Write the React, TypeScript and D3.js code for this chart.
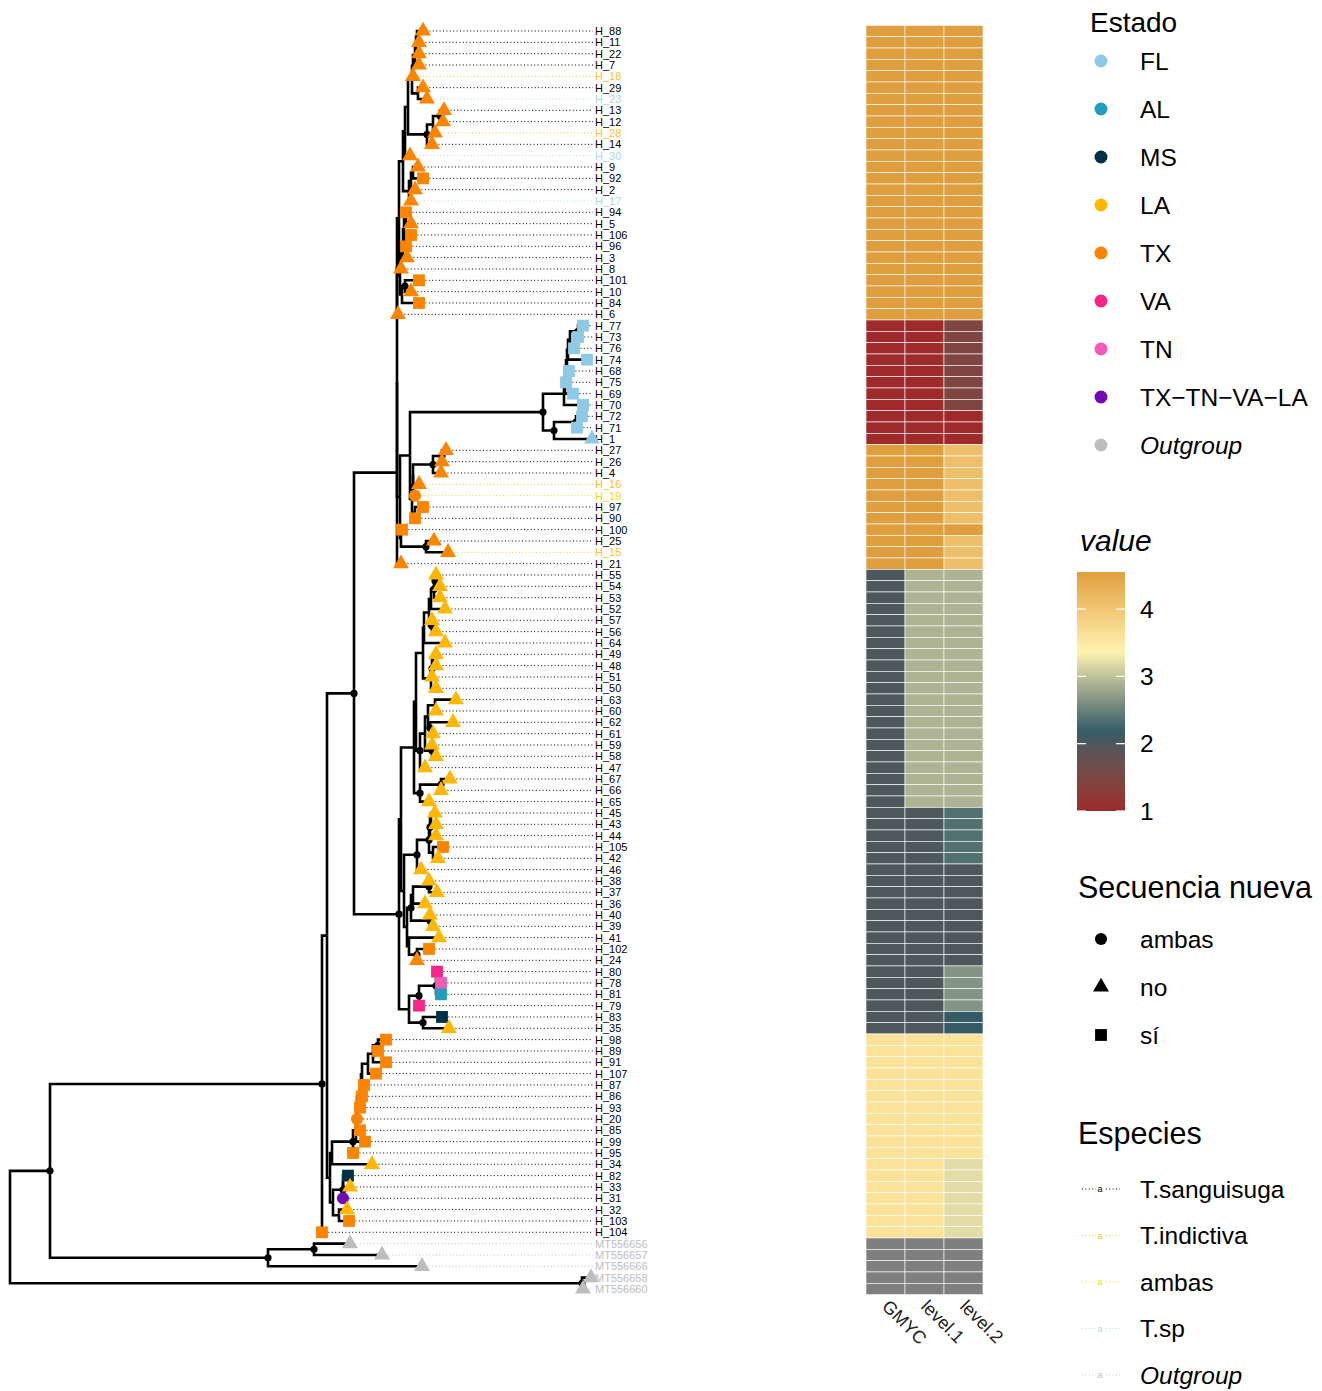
import { useEffect, useRef } from "react";
import * as d3 from "d3";

// ---- tip data (row order, top to bottom) ----
const tipLabels = [
  "H_88", "H_11", "H_22", "H_7", "H_18", "H_29", "H_23", "H_13", "H_12", "H_28", "H_14", "H_30", "H_9",
  "H_92", "H_2", "H_17", "H_94", "H_5", "H_106", "H_96", "H_3", "H_8", "H_101", "H_10", "H_84", "H_6",
  "H_77", "H_73", "H_76", "H_74", "H_68", "H_75", "H_69", "H_70", "H_72", "H_71", "H_1",
  "H_27", "H_26", "H_4", "H_16", "H_19", "H_97", "H_90", "H_100", "H_25", "H_15", "H_21",
  "H_55", "H_54", "H_53", "H_52", "H_57", "H_56", "H_64", "H_49", "H_48", "H_51", "H_50",
  "H_63", "H_60", "H_62", "H_61", "H_59", "H_58", "H_47", "H_67", "H_66", "H_65",
  "H_45", "H_43", "H_44", "H_105", "H_42", "H_46", "H_38", "H_37", "H_36", "H_40", "H_39", "H_41", "H_102", "H_24",
  "H_80", "H_78", "H_81", "H_79", "H_83", "H_35",
  "H_98", "H_89", "H_91", "H_107", "H_87", "H_86", "H_93", "H_20", "H_85", "H_99", "H_95",
  "H_34", "H_82", "H_33", "H_31", "H_32", "H_103", "H_104",
  "MT556656", "MT556657", "MT556666", "MT556658", "MT556660"
];

const estado = [
  "TX", "TX", "TX", "TX", "TX", "TX", "TX", "TX", "TX", "TX", "TX", "TX", "TX",
  "TX", "TX", "TX", "TX", "TX", "TX", "TX", "TX", "TX", "TX", "TX", "TX", "TX",
  "FL", "FL", "FL", "FL", "FL", "FL", "FL", "FL", "FL", "FL", "FL",
  "TX", "TX", "TX", "TX", "TX", "TX", "TX", "TX", "TX", "TX", "TX",
  "LA", "LA", "LA", "LA", "LA", "LA", "LA", "LA", "LA", "LA", "LA",
  "LA", "LA", "LA", "LA", "LA", "LA", "LA", "LA", "LA", "LA",
  "LA", "LA", "LA", "TX", "LA", "LA", "LA", "LA", "LA", "LA", "LA", "LA", "TX", "TX",
  "VA", "TN", "AL", "VA", "MS", "LA",
  "TX", "TX", "TX", "TX", "TX", "TX", "TX", "TX", "TX", "TX", "TX",
  "LA", "MS", "LA", "TX-TN-VA-LA", "LA", "TX", "TX",
  "Outgroup", "Outgroup", "Outgroup", "Outgroup", "Outgroup"
];

const secuencia = [
  "no", "no", "no", "no", "no", "no", "no", "no", "no", "no", "no", "no", "no",
  "sí", "no", "no", "sí", "no", "sí", "sí", "no", "no", "sí", "no", "sí", "no",
  "sí", "sí", "sí", "sí", "sí", "sí", "sí", "sí", "sí", "sí", "no",
  "no", "no", "no", "no", "ambas", "sí", "sí", "sí", "no", "no", "no",
  "no", "no", "no", "no", "no", "no", "no", "no", "no", "no", "no",
  "no", "no", "no", "no", "no", "no", "no", "no", "no", "no",
  "no", "no", "no", "sí", "no", "no", "no", "no", "no", "no", "no", "no", "sí", "no",
  "sí", "sí", "sí", "sí", "sí", "no",
  "sí", "sí", "sí", "sí", "sí", "sí", "sí", "ambas", "sí", "sí", "sí",
  "no", "sí", "no", "ambas", "no", "sí", "sí",
  "no", "no", "no", "no", "no"
];

const especie = [
  "T.sanguisuga", "T.sanguisuga", "T.sanguisuga", "T.sanguisuga", "T.indictiva", "T.sanguisuga", "T.sp",
  "T.sanguisuga", "T.sanguisuga", "T.indictiva", "T.sanguisuga", "T.sp", "T.sanguisuga",
  "T.sanguisuga", "T.sanguisuga", "T.sp", "T.sanguisuga", "T.sanguisuga", "T.sanguisuga", "T.sanguisuga",
  "T.sanguisuga", "T.sanguisuga", "T.sanguisuga", "T.sanguisuga", "T.sanguisuga", "T.sanguisuga",
  "T.sanguisuga", "T.sanguisuga", "T.sanguisuga", "T.sanguisuga", "T.sanguisuga", "T.sanguisuga",
  "T.sanguisuga", "T.sanguisuga", "T.sanguisuga", "T.sanguisuga", "T.sanguisuga",
  "T.sanguisuga", "T.sanguisuga", "T.sanguisuga", "T.indictiva", "ambas", "T.sanguisuga", "T.sanguisuga",
  "T.sanguisuga", "T.sanguisuga", "T.indictiva", "T.sanguisuga",
  "T.sanguisuga", "T.sanguisuga", "T.sanguisuga", "T.sanguisuga", "T.sanguisuga", "T.sanguisuga", "T.sanguisuga",
  "T.sanguisuga", "T.sanguisuga", "T.sanguisuga", "T.sanguisuga", "T.sanguisuga", "T.sanguisuga", "T.sanguisuga",
  "T.sanguisuga", "T.sanguisuga", "T.sanguisuga", "T.sanguisuga", "T.sanguisuga", "T.sanguisuga", "T.sanguisuga",
  "T.sanguisuga", "T.sanguisuga", "T.sanguisuga", "T.sanguisuga", "T.sanguisuga", "T.sanguisuga", "T.sanguisuga",
  "T.sanguisuga", "T.sanguisuga", "T.sanguisuga", "T.sanguisuga", "T.sanguisuga", "T.sanguisuga", "T.sanguisuga",
  "T.sanguisuga", "T.sanguisuga", "T.sanguisuga", "T.sanguisuga", "T.sanguisuga", "T.sanguisuga",
  "T.sanguisuga", "T.sanguisuga", "T.sanguisuga", "T.sanguisuga", "T.sanguisuga", "T.sanguisuga", "T.sanguisuga",
  "T.sanguisuga", "T.sanguisuga", "T.sanguisuga", "T.sanguisuga", "T.sanguisuga", "T.sanguisuga", "T.sanguisuga",
  "T.sanguisuga", "T.sanguisuga", "T.sanguisuga", "T.sanguisuga",
  "Outgroup", "Outgroup", "Outgroup", "Outgroup", "Outgroup"
];

// ---- heatmap values (same row order) ----
const gmyc = [
  4.55, 4.55, 4.55, 4.55, 4.55, 4.55, 4.55, 4.55, 4.55, 4.55, 4.55, 4.55, 4.55,
  4.55, 4.55, 4.55, 4.55, 4.55, 4.55, 4.55, 4.55, 4.55, 4.55, 4.55, 4.55, 4.55,
  1, 1, 1, 1, 1, 1, 1, 1, 1, 1, 1,
  4.55, 4.55, 4.55, 4.55, 4.55, 4.55, 4.55, 4.55, 4.55, 4.55, 4.55,
  2, 2, 2, 2, 2, 2, 2, 2, 2, 2, 2, 2, 2, 2, 2, 2, 2, 2, 2, 2, 2,
  2, 2, 2, 2, 2, 2, 2, 2, 2, 2, 2, 2, 2, 2,
  2, 2, 2, 2, 2, 2,
  3.6, 3.6, 3.6, 3.6, 3.6, 3.6, 3.6, 3.6, 3.6, 3.6, 3.6,
  3.6, 3.6, 3.6, 3.6, 3.6, 3.6, 3.6,
  null, null, null, null, null
];
const level1 = [
  4.55, 4.55, 4.55, 4.55, 4.55, 4.55, 4.55, 4.55, 4.55, 4.55, 4.55, 4.55, 4.55,
  4.55, 4.55, 4.55, 4.55, 4.55, 4.55, 4.55, 4.55, 4.55, 4.55, 4.55, 4.55, 4.55,
  1, 1, 1, 1, 1, 1, 1, 1, 1, 1, 1,
  4.55, 4.55, 4.55, 4.55, 4.55, 4.55, 4.55, 4.55, 4.55, 4.55, 4.55,
  2.9, 2.9, 2.9, 2.9, 2.9, 2.9, 2.9, 2.9, 2.9, 2.9, 2.9, 2.9, 2.9, 2.9, 2.9, 2.9, 2.9, 2.9, 2.9, 2.9, 2.9,
  2, 2, 2, 2, 2, 2, 2, 2, 2, 2, 2, 2, 2, 2,
  2, 2, 2, 2, 2, 2,
  3.6, 3.6, 3.6, 3.6, 3.6, 3.6, 3.6, 3.6, 3.6, 3.6, 3.6,
  3.6, 3.6, 3.6, 3.6, 3.6, 3.6, 3.6,
  null, null, null, null, null
];
const level2 = [
  4.55, 4.55, 4.55, 4.55, 4.55, 4.55, 4.55, 4.55, 4.55, 4.55, 4.55, 4.55, 4.55,
  4.55, 4.55, 4.55, 4.55, 4.55, 4.55, 4.55, 4.55, 4.55, 4.55, 4.55, 4.55, 4.55,
  1.45, 1.45, 1.45, 1.45, 1.45, 1.45, 1.45, 1.45, 1, 1, 1,
  4.1, 4.1, 4.1, 4.1, 4.1, 4.1, 4.1, 4.55, 4.1, 4.1, 4.1,
  2.9, 2.9, 2.9, 2.9, 2.9, 2.9, 2.9, 2.9, 2.9, 2.9, 2.9, 2.9, 2.9, 2.9, 2.9, 2.9, 2.9, 2.9, 2.9, 2.9, 2.9,
  2.35, 2.35, 2.35, 2.35, 2.35, 2, 2, 2, 2, 2, 2, 2, 2, 2,
  2.65, 2.65, 2.65, 2.65, 2.17, 2.17,
  3.6, 3.6, 3.6, 3.6, 3.6, 3.6, 3.6, 3.6, 3.6, 3.6, 3.6,
  3.2, 3.2, 3.2, 3.2, 3.2, 3.2, 3.2,
  null, null, null, null, null
];
const heatColumns = ["GMYC", "level.1", "level.2"];

// ---- legend levels ----
const estadoLevels = ["FL", "AL", "MS", "LA", "TX", "VA", "TN", "TX-TN-VA-LA", "Outgroup"];
const estadoColors = ["#8ecae6", "#219ebc", "#023047", "#ffb703", "#fb8500", "#f72585", "#f15bb5", "#7209b7", "#bdbdbd"];
const secuenciaLevels = ["ambas", "no", "sí"];
const especieLevels = ["T.sanguisuga", "T.indictiva", "ambas", "T.sp", "Outgroup"];
const especieColors = ["#000000", "#ffc125", "#ffd700", "#add8e6", "#bebebe"];
const heatPalette = ["#9e2a2b", "#335c67", "#fff3b0", "#e09f3e"];
const valueTicks = [1, 2, 3, 4];

// ---- tree (newick, branch lengths in subst./site, "*" = supported node) ----
const topA = "((((H_88:0.006,H_11:0.002):0.001,H_22:0.003):0.001,H_7:0.004):0.002,H_18:0.000)";
const topB = "(H_29:0.005,H_23:0.009)";
const topC = "(((H_13:0.004,H_12:0.003)*:0.007,H_28:0.002):0.006,H_14:0.005)*";
const topG = "(((H_9:0.005,H_92:0.010):0.002,H_2:0.004):0.002,H_17:0.002)";
const topI = "((((H_94:0.000,H_5:0.005):0.002,(H_106:0.005,H_96:0.000):0.002):0.001,H_3:0.004):0.002,H_8:0.000)";
const topJ = "((H_101:0.014,H_10:0.006)*:0.003,H_84:0.017)";
const topClade = `(((((${topA}:0.001,${topB}:0.006):0.004,${topC}:0.019):0.003,H_30:0.005):0.002,${topG}:0.006):0.004,(${topI}:0.001,${topJ}:0.002):0.001)`;
const flUp = "(((((((H_77:0.005,H_73:0.000)*:0.008,H_76:0.004):0.002,H_74:0.019):0.001,H_68:0.002):0.001,H_75:0.000):0.001,H_69:0.008):0.001,H_70:0.019)";
const flClade = `(${flUp}:0.021,((H_72:0.006,H_71:0.001)*:0.022,H_1:0.038)*:0.011)*`;
const w2Clade = "(((((H_27:0.004,H_26:0.000)*:0.009,H_4:0.008)*:0.020,H_16:0.006):0.000,H_19:0.002):0.001,(H_97:0.008,H_90:0.000):0.003)";
const cladeT = `(((${topClade}:0.002,H_6:0.001):0.000,((${flClade}:0.133,${w2Clade}:0.002):0.010,(H_100:0.001,(H_25:0.008,H_15:0.022)*:0.025):0.001):0.003):0.000,H_21:0.004)`;
const y1a = "(((H_55:0.001,H_54:0.005)*:0.001,H_53:0.006)*:0.003,H_52:0.014)";
const y1c = `((${y1a}:0.002,(H_57:0.000,H_56:0.004)*:0.003):0.005,H_64:0.021)`;
const y1d = "(((H_49:0.003,H_48:0.003):0.001,H_51:0.000)*:0.001,H_50:0.005)";
const y1e = "((((H_63:0.021,H_60:0.001):0.007,(H_62:0.023,H_61:0.003)*:0.002):0.003,(H_59:0.000,H_58:0.004)*:0.007):0.005,H_47:0.005)*";
const y1 = `(((${y1c}:0.001,${y1d}:0.008):0.007,${y1e}:0.004):0.002,((H_67:0.009,H_66:0.000)*:0.021,H_65:0.009)*:0.006)`;
const y2c = "((((H_45:0.004,H_43:0.005):0.001,H_44:0.006)*:0.001,(H_105:0.010,H_42:0.005):0.004)*:0.012,H_46:0.004)*";
const y2fg = "((((H_38:0.000,H_37:0.008)*:0.016,H_36:0.012):0.002,(H_40:0.000,H_39:0.003)*:0.019)*:0.004,(H_41:0.030,(H_102:0.012,H_24:0.000)*:0.008):0.002)";
const pd = "((((H_80:0.000,H_78:0.004):0.001,H_81:0.005)*:0.017,H_79:0.000)*:0.010,(H_83:0.019,H_35:0.026)*:0.014)";
const cladeBC = `((${y1}:0.013,(${y2c}:0.013,${y2fg}:0.003):0.003):0.002,${pd}:0.010)*`;
const orangeO = "((((((((((H_98:0.008,H_89:0.000)*:0.005,H_91:0.013):0.005,H_107:0.008):0.006,H_87:0.002):0.001,H_86:0.001):0.001,H_93:0.000):0.003,H_20:0.000):0.000,H_85:0.003):0.001,H_99:0.009):0.003,H_95:0.000)*";
const cladeX = `((${orangeO}:0.021,H_34:0.040):0.002,(((H_82:0.005,H_33:0.007):0.000,H_31:0.000)*:0.010,(H_32:0.008,H_103:0.010):0.006):0.003)`;
const ingroup = `(((${cladeT}:0.043,${cladeBC}:0.045)*:0.027,${cladeX}:0.003):0.005,H_104:0.000)*`;
const outgroup = "((MT556656:0.036,MT556657:0.068)*:0.046,MT556666:0.154)*";
const newick = `((${ingroup}:0.272,${outgroup}:0.218)*:0.040,(MT556658:0.009,MT556660:0.001)*:0.572);`;

function parseNewick(s: string) {
  let i = 0;
  const readNode = (): any => {
    const node: any = { name: "", length: 0 };
    if (s[i] === "(") {
      i++;
      node.children = [readNode()];
      while (s[i] === ",") { i++; node.children.push(readNode()); }
      i++;
    }
    let name = "";
    while (i < s.length && !":,();".includes(s[i])) name += s[i++];
    node.name = name;
    if (s[i] === ":") {
      i++;
      let num = "";
      while (i < s.length && !",();".includes(s[i])) num += s[i++];
      node.length = +num;
    }
    return node;
  };
  return readNode();
}

const FONT = "'Liberation Sans', Arial, sans-serif";

const App = () => {
  const svgRef = useRef<SVGSVGElement>(null);

  useEffect(() => {
    const svg = d3.select(svgRef.current);
    svg.selectAll("*").remove();

    const nTips = tipLabels.length;
    const rowStep = 11.333;
    const top = 25.33;

    const root: any = d3.hierarchy(parseNewick(newick), (d: any) => d.children);
    d3.cluster().size([rowStep * nTips, 1]).separation(() => 1)(root);
    root.each((d: any) => { d.cum = (d.parent ? d.parent.cum : 0) + (d.parent ? d.data.length : 0); });

    const x = d3.scaleLinear().domain([0, 0.58]).range([10, 590]);
    const yOf = (d: any) => top + d.x;

    const idx = new Map(tipLabels.map((t, i) => [t, i]));
    const estadoColor = d3.scaleOrdinal<string, string>().domain(estadoLevels).range(estadoColors);
    const especieColor = d3.scaleOrdinal<string, string>().domain(especieLevels).range(especieColors);
    const shapeOf = d3.scaleOrdinal<string, any>().domain(secuenciaLevels)
      .range([d3.symbolCircle, d3.symbolTriangle, d3.symbolSquare]);
    const sizeOf = d3.scaleOrdinal<string, number>().domain(secuenciaLevels).range([115, 110, 140]);

    const g = svg.append("g");
    const leaves = root.leaves();
    const labelX = 595;

    // dotted alignment lines
    g.selectAll("line.dot").data(leaves).join("line")
      .attr("x1", (d: any) => x(d.cum) + 3).attr("x2", labelX - 2)
      .attr("y1", yOf).attr("y2", yOf)
      .attr("stroke", (d: any) => especieColor(especie[idx.get(d.data.name)!]))
      .attr("stroke-width", 1).attr("stroke-dasharray", "1,2.4");

    // edges
    g.selectAll("path.edge").data(root.descendants().filter((d: any) => d.parent)).join("path")
      .attr("d", (d: any) => `M${x(d.parent.cum)},${yOf(d.parent)}V${yOf(d)}H${x(d.cum)}`)
      .attr("fill", "none").attr("stroke", "#000").attr("stroke-width", 2.6);

    // tip labels
    g.selectAll("text.tip").data(leaves).join("text")
      .attr("x", labelX).attr("y", yOf).attr("dy", "0.36em")
      .attr("font-family", FONT).attr("font-size", 11)
      .attr("fill", (d: any) => especieColor(especie[idx.get(d.data.name)!]))
      .text((d: any) => d.data.name);

    // node support dots
    g.selectAll("circle.node").data(root.descendants().filter((d: any) => d.children && d.data.name === "*")).join("circle")
      .attr("cx", (d: any) => x(d.cum)).attr("cy", yOf).attr("r", 3.6).attr("fill", "#000");

    // tip points
    g.selectAll("path.tip").data(leaves).join("path")
      .attr("transform", (d: any) => `translate(${x(d.cum)},${yOf(d)})`)
      .attr("d", (d: any) => {
        const s = secuencia[idx.get(d.data.name)!];
        return d3.symbol().type(shapeOf(s)).size(sizeOf(s))()!;
      })
      .attr("fill", (d: any) => estadoColor(estado[idx.get(d.data.name)!]));

    // heatmap
    const allVals = [...gmyc, ...level1, ...level2].filter(v => v != null) as number[];
    const [vMin, vMax] = d3.extent(allVals) as [number, number];
    const heat = d3.scaleLinear<string>()
      .domain(heatPalette.map((_, i) => vMin + (i * (vMax - vMin)) / (heatPalette.length - 1)))
      .range(heatPalette).interpolate(d3.interpolateLab);
    const xh = d3.scaleBand().domain(heatColumns).range([866, 983]);
    const cols = [gmyc, level1, level2];
    const cells: any[] = [];
    leaves.forEach((d: any) => {
      const i = idx.get(d.data.name)!;
      heatColumns.forEach((c, j) => cells.push({ col: c, y: yOf(d), v: cols[j][i] }));
    });
    g.selectAll("rect.cell").data(cells).join("rect")
      .attr("x", d => xh(d.col)!).attr("width", xh.bandwidth())
      .attr("y", d => d.y - rowStep / 2).attr("height", rowStep)
      .attr("fill", d => (d.v == null ? "#7f7f7f" : heat(d.v)))
      .attr("stroke", "#fff").attr("stroke-width", 0.6);
    g.selectAll("text.col").data(heatColumns).join("text")
      .attr("transform", d => `translate(${xh(d)! + xh.bandwidth() / 2},${1303}) rotate(45)`)
      .attr("font-family", FONT).attr("font-size", 18).attr("fill", "#222")
      .attr("dy", "0.35em")
      .text(d => d);

    // ---- legends ----
    const lg = svg.append("g").attr("font-family", FONT);
    const keyX = 1101, textX = 1140;
    lg.append("text").attr("x", 1090).attr("y", 22).attr("dy", "0.35em").attr("font-size", 28).text("Estado");
    const ey = d3.scalePoint().domain(estadoLevels).range([61, 445]);
    estadoLevels.forEach((lvl, i) => {
      lg.append("circle").attr("cx", keyX).attr("cy", ey(lvl)!).attr("r", 6.5).attr("fill", estadoColors[i]);
      lg.append("text").attr("x", textX).attr("y", ey(lvl)!).attr("dy", "0.35em").attr("font-size", 24.5)
        .attr("font-style", lvl === "Outgroup" ? "italic" : "normal").text(lvl.replace(/-/g, "\u2212"));
    });

    lg.append("text").attr("x", 1080).attr("y", 540).attr("dy", "0.35em").attr("font-size", 30)
      .attr("font-style", "italic").text("value");
    const barTop = 572, barBot = 811, barL = 1077, barW = 48;
    const yv = d3.scaleLinear().domain([vMin, vMax]).range([barBot, barTop]);
    const grad = svg.append("defs").append("linearGradient").attr("id", "valgrad")
      .attr("x1", 0).attr("x2", 0).attr("y1", 1).attr("y2", 0);
    d3.range(0, 1.0001, 0.02).forEach(t => {
      grad.append("stop").attr("offset", t).attr("stop-color", heat(vMin + t * (vMax - vMin)));
    });
    lg.append("rect").attr("x", barL).attr("y", barTop).attr("width", barW).attr("height", barBot - barTop)
      .attr("fill", "url(#valgrad)");
    valueTicks.forEach(v => {
      lg.append("line").attr("x1", barL).attr("x2", barL + 9).attr("y1", yv(v)).attr("y2", yv(v))
        .attr("stroke", "#fff").attr("stroke-width", 1.2);
      lg.append("line").attr("x1", barL + barW - 9).attr("x2", barL + barW).attr("y1", yv(v)).attr("y2", yv(v))
        .attr("stroke", "#fff").attr("stroke-width", 1.2);
      lg.append("text").attr("x", textX).attr("y", yv(v)).attr("dy", "0.35em").attr("font-size", 24.5).text(v);
    });

    lg.append("text").attr("x", 1078).attr("y", 887).attr("dy", "0.35em").attr("font-size", 30.5).text("Secuencia nueva");
    const sy = d3.scalePoint().domain(secuenciaLevels).range([939, 1035]);
    secuenciaLevels.forEach(lvl => {
      lg.append("path").attr("transform", `translate(${keyX},${sy(lvl)})`)
        .attr("d", d3.symbol().type(shapeOf(lvl)).size(sizeOf(lvl))()!).attr("fill", "#000");
      lg.append("text").attr("x", textX).attr("y", sy(lvl)!).attr("dy", "0.35em").attr("font-size", 24.5).text(lvl);
    });

    lg.append("text").attr("x", 1078).attr("y", 1133).attr("dy", "0.35em").attr("font-size", 30.5).text("Especies");
    const spy = d3.scalePoint().domain(especieLevels).range([1189, 1375]);
    especieLevels.forEach((lvl, i) => {
      const yy = spy(lvl)!;
      lg.append("line").attr("x1", 1082).attr("x2", 1120).attr("y1", yy).attr("y2", yy)
        .attr("stroke", especieColors[i]).attr("stroke-width", 1).attr("stroke-dasharray", "1,2.4");
      lg.append("rect").attr("x", 1096).attr("y", yy - 5).attr("width", 8).attr("height", 10).attr("fill", "#fff");
      lg.append("text").attr("x", 1100).attr("y", yy).attr("dy", "0.35em").attr("text-anchor", "middle")
        .attr("font-size", 9).attr("fill", especieColors[i]).text("a");
      lg.append("text").attr("x", textX).attr("y", yy).attr("dy", "0.35em").attr("font-size", 24.5)
        .attr("font-style", lvl === "Outgroup" ? "italic" : "normal").text(lvl);
    });
  }, []);

  return (
    <div style={{ position: "absolute", left: 0, top: 0, background: "#fff" }}>
      <svg ref={svgRef} width={1322} height={1391} style={{ display: "block" }}></svg>
    </div>
  );
};

export default App;
